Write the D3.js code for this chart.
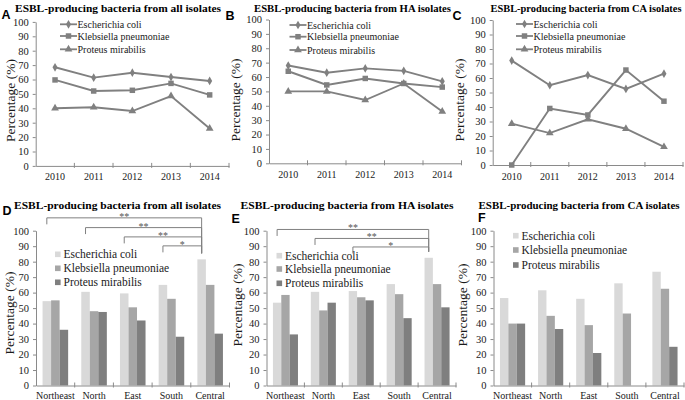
<!DOCTYPE html>
<html><head><meta charset="utf-8">
<script src="https://cdn.jsdelivr.net/npm/d3@7"></script>
<style>
body{margin:0;background:#fff}
svg{display:block}
text{font-family:"Liberation Serif","Times New Roman",serif}
</style>
</head><body>
<svg id="c" width="685" height="400"></svg>
<script>
// ---------- data ----------
const years = ["2010", "2011", "2012", "2013", "2014"];
const regions = ["Northeast", "North", "East", "South", "Central"];
const species = ["Escherichia coli", "Klebsiella pneumoniae", "Proteus mirabilis"];
const yTicks = [0, 10, 20, 30, 40, 50, 60, 70, 80, 90, 100];

// A: all isolates, trend by year
const allEcoli = [68.5, 61.3, 64.7, 61.7, 59.0];
const allKleb = [59.7, 52.0, 52.5, 57.3, 49.3];
const allProt = [40.0, 40.7, 38.1, 48.5, 26.0];
// B: HA isolates
const haEcoli = [68.0, 63.0, 66.0, 64.3, 57.0];
const haKleb = [64.0, 54.5, 59.0, 55.5, 53.0];
const haProt = [50.0, 50.0, 44.0, 55.5, 36.0];
// C: CA isolates
const caEcoli = [72.0, 55.0, 62.0, 52.5, 63.0];
const caKleb = [0.0, 39.0, 34.5, 65.5, 44.0];
const caProt = [28.5, 22.0, 31.5, 25.0, 12.5];

// D: all isolates by region
const regAllEcoli = [54.5, 60.5, 59.5, 65.0, 81.5];
const regAllKleb = [55.0, 48.0, 50.5, 56.0, 65.0];
const regAllProt = [36.0, 47.5, 42.0, 31.5, 33.5];
// E: HA isolates by region
const regHaEcoli = [53.5, 60.5, 61.0, 65.5, 82.5];
const regHaKleb = [58.5, 48.5, 57.0, 59.0, 65.5];
const regHaProt = [33.0, 53.5, 55.0, 43.5, 50.5];
// F: CA isolates by region
const regCaEcoli = [56.5, 61.5, 56.0, 66.0, 73.5];
const regCaKleb = [40.0, 45.0, 39.0, 46.5, 62.5];
const regCaProt = [40.0, 36.5, 21.0, 0.0, 25.0];

// significance brackets (compared against Central)
const sigAllFrom = ["Northeast", "North", "East", "South"];
const sigAllLevel = [108.3, 102.0, 96.0, 90.2];
const sigAllLabel = ["**", "**", "**", "*"];
const sigHaFrom = ["Northeast", "North", "East"];
const sigHaLevel = [100.8, 95.0, 89.5];
const sigHaLabel = ["**", "**", "*"];

// ---------- styles ----------
const svg = d3.select("#c");
const SERIF = "'Liberation Serif','Times New Roman',serif";
const LINE = "#808080", AXIS = "#8a8a8a", TXT = "#1a1a1a";
const barColors = ["#d9d9d9", "#a6a6a6", "#7f7f7f"];
const markers = [d3.symbolDiamond, d3.symbolSquare, d3.symbolTriangle];
const markerSize = [22, 30, 26];

function frame(g, cfg) {
  g.append("text").attr("x", cfg.lx).attr("y", cfg.ly)
    .style("font-family", "'Liberation Sans',Arial,sans-serif")
    .style("font-weight", "bold").style("font-size", "12.5px").attr("fill", "#000")
    .text(cfg.letter);
  g.append("text").attr("x", cfg.tx).attr("y", cfg.ty).attr("text-anchor", "middle")
    .style("font-family", SERIF)
    .style("font-weight", "bold").style("font-size", "10.6px").attr("fill", "#000")
    .attr("textLength", cfg.tw).attr("lengthAdjust", "spacingAndGlyphs")
    .text(cfg.title);
  g.append("text")
    .attr("transform", `translate(${cfg.ylx},${cfg.yly}) rotate(-90)`)
    .attr("text-anchor", "middle").attr("dominant-baseline", "central")
    .style("font-family", SERIF)
    .style("font-size", "13.5px").attr("fill", TXT)
    .text("Percentage (%)");
}

function axes(g, x, y, labelPad) {
  const ya = g.append("g").attr("transform", `translate(${x.range()[0]},0)`)
    .call(d3.axisLeft(y).tickValues(yTicks).tickSize(3).tickSizeOuter(0).tickPadding(4));
  ya.select(".domain").attr("stroke", AXIS);
  ya.selectAll(".tick line").attr("stroke", AXIS);
  ya.selectAll(".tick text").attr("fill", TXT).style("font-size", "10.5px")
    .style("font-family", SERIF);

  const y0 = y(0);
  const xa = g.append("g").attr("transform", `translate(0,${y0})`)
    .call(d3.axisBottom(x).tickSize(0).tickPadding(labelPad));
  xa.select(".domain").attr("stroke", AXIS);
  xa.selectAll(".tick text").attr("fill", TXT).style("font-size", "10px")
    .style("font-family", SERIF);
  const bounds = x.domain().slice(1).map(d => x(d)).concat([x.range()[1]]);
  g.append("g").selectAll("line").data(bounds).join("line")
    .attr("x1", d => d).attr("x2", d => d)
    .attr("y1", y0 - 3).attr("y2", y0 + 2)
    .attr("stroke", AXIS);
}

function lineChart(cfg) {
  const g = svg.append("g");
  const x = d3.scaleBand().domain(years).range(cfg.xr);
  const y = d3.scaleLinear().domain([0, 100]).range(cfg.yr);
  frame(g, cfg);
  axes(g, x, y, 7.5);
  const cx = d => x(d) + x.bandwidth() / 2;
  cfg.series.forEach((vals, i) => {
    const pts = years.map((yr, k) => [cx(yr), y(vals[k])]);
    g.append("path").attr("d", d3.line()(pts))
      .attr("fill", "none").attr("stroke", LINE).attr("stroke-width", 1.9);
    g.append("g").selectAll("path").data(pts).join("path")
      .attr("transform", p => `translate(${p[0]},${p[1]})`)
      .attr("d", d3.symbol().type(markers[i]).size(markerSize[i]))
      .attr("fill", LINE);
    // legend
    const ly = cfg.legY[i];
    g.append("line").attr("x1", cfg.legX).attr("x2", cfg.legX + 17)
      .attr("y1", ly).attr("y2", ly).attr("stroke", LINE).attr("stroke-width", 1.8);
    g.append("path").attr("transform", `translate(${cfg.legX + 8.5},${ly})`)
      .attr("d", d3.symbol().type(markers[i]).size(markerSize[i])).attr("fill", LINE);
    g.append("text").attr("x", cfg.legX + 17.5).attr("y", ly)
      .attr("dominant-baseline", "central")
      .style("font-family", SERIF).style("font-size", "10px").attr("fill", TXT)
      .text(species[i]);
  });
}

function barChart(cfg) {
  const g = svg.append("g");
  const x = d3.scaleBand().domain(regions).range(cfg.xr);
  const x1 = d3.scaleBand().domain(species).range([0, x.bandwidth()])
    .paddingInner(0).paddingOuter(0.77);
  const y = d3.scaleLinear().domain([0, 100]).range(cfg.yr);
  frame(g, cfg);
  cfg.series.forEach((vals, i) => {
    g.append("g").selectAll("rect").data(regions).join("rect")
      .attr("x", (r) => x(r) + x1(species[i]))
      .attr("width", x1.bandwidth())
      .attr("y", (r, k) => y(vals[k]))
      .attr("height", (r, k) => y(0) - y(vals[k]))
      .attr("fill", barColors[i]);
    const ly = cfg.legY[i];
    g.append("rect").attr("x", cfg.legX).attr("y", ly - 2.8).attr("width", 5.6).attr("height", 5.6)
      .attr("fill", barColors[i]);
    g.append("text").attr("x", cfg.legX + 8.5).attr("y", ly)
      .attr("dominant-baseline", "central")
      .style("font-family", SERIF).style("font-size", "11.5px").attr("fill", TXT)
      .text(species[i]);
  });
  axes(g, x, y, 6);
  if (cfg.sig) {
    const bx = r => x(r) + x1(species[0]) + x1.bandwidth() / 2;
    const xR = bx("Central");
    const topCentral = y(cfg.series[0][regions.indexOf("Central")]);
    const endY = topCentral - 6;
    cfg.sig.from.forEach((r, k) => {
      const ly = y(cfg.sig.level[k]);
      const xL = bx(r);
      g.append("path")
        .attr("d", `M${xL},${ly + 6.5}V${ly}H${xR}V${endY}`)
        .attr("fill", "none").attr("stroke", LINE).attr("stroke-width", 1);
      g.append("text").attr("x", (xL + xR) / 2).attr("y", ly + 2)
        .attr("text-anchor", "middle")
        .style("font-family", SERIF).style("font-size", "10px").attr("fill", "#555")
        .text(cfg.sig.label[k]);
    });
  }
}

lineChart({letter: "A", lx: 1.5, ly: 18.5, title: "ESBL-producing bacteria from all isolates",
  tx: 118, ty: 12, tw: 206, ylx: 10, yly: 100.5,
  xr: [35.7, 229], yr: [165.9, 21.9], legX: 60, legY: [24.3, 36, 49.3],
  series: [allEcoli, allKleb, allProt]});
lineChart({letter: "B", lx: 225.5, ly: 20, title: "ESBL-producing bacteria from HA isolates",
  tx: 352.5, ty: 12, tw: 197, ylx: 235, yly: 100,
  xr: [269, 461.5], yr: [163.3, 19.5], legX: 289.5, legY: [25, 36.7, 50],
  series: [haEcoli, haKleb, haProt]});
lineChart({letter: "C", lx: 452.5, ly: 19.5, title: "ESBL-producing bacteria from CA isolates",
  tx: 586, ty: 12, tw: 191, ylx: 459, yly: 100,
  xr: [492.7, 683], yr: [165, 20], legX: 516, legY: [24, 36, 49.3],
  series: [caEcoli, caKleb, caProt]});

barChart({letter: "D", lx: 2.5, ly: 214.5, title: "ESBL-producing bacteria from all isolates",
  tx: 117.5, ty: 208.5, tw: 207, ylx: 9.5, yly: 313,
  xr: [36, 229.5], yr: [385.5, 230.7], legX: 55, legY: [254.3, 268.3, 282.3],
  series: [regAllEcoli, regAllKleb, regAllProt],
  sig: {from: sigAllFrom, level: sigAllLevel, label: sigAllLabel}});
barChart({letter: "E", lx: 231.5, ly: 223, title: "ESBL-producing bacteria from HA isolates",
  tx: 347, ty: 209, tw: 213, ylx: 237, yly: 305,
  xr: [266.5, 456], yr: [385.5, 230.7], legX: 276.5, legY: [255.7, 269, 283.3],
  series: [regHaEcoli, regHaKleb, regHaProt],
  sig: {from: sigHaFrom, level: sigHaLevel, label: sigHaLabel}});
barChart({letter: "F", lx: 478, ly: 222, title: "ESBL-producing bacteria from CA isolates",
  tx: 579, ty: 209, tw: 201, ylx: 462, yly: 305,
  xr: [493.5, 684], yr: [385.5, 230.7], legX: 513, legY: [235.7, 250, 265],
  series: [regCaEcoli, regCaKleb, regCaProt]});
</script>
</body></html>
